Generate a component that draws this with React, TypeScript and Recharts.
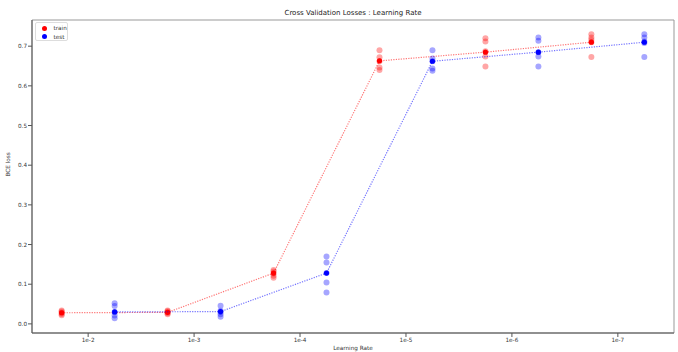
import {
  ReferenceArea,
  Scatter,
  ScatterChart,
  XAxis,
  YAxis,
} from 'recharts'

// learning rates on the x axis (ticks), train points sit left of each tick, test points right
const lrLabels = ['1e-2', '1e-3', '1e-4', '1e-5', '1e-6', '1e-7']

// individual cross validation runs, one list per learning rate
const trainRuns = [
  [0.022, 0.025, 0.028, 0.031, 0.034],
  [0.024, 0.027, 0.029, 0.032, 0.034],
  [0.116, 0.121, 0.127, 0.132, 0.136],
  [0.64, 0.646, 0.662, 0.672, 0.69],
  [0.649, 0.674, 0.687, 0.712, 0.72],
  [0.673, 0.71, 0.716, 0.722, 0.73],
]
const testRuns = [
  [0.014, 0.021, 0.03, 0.045, 0.052],
  [0.018, 0.024, 0.03, 0.033, 0.046],
  [0.079, 0.104, 0.128, 0.155, 0.17],
  [0.638, 0.644, 0.662, 0.669, 0.69],
  [0.649, 0.674, 0.685, 0.714, 0.722],
  [0.673, 0.708, 0.712, 0.722, 0.73],
]

// mean loss per learning rate
const trainMean = [0.028, 0.029, 0.128, 0.663, 0.685, 0.71]
const testMean = [0.03, 0.031, 0.128, 0.662, 0.685, 0.71]

const yTicks = [0, 0.1, 0.2, 0.3, 0.4, 0.5, 0.6, 0.7]
const xDomain = [-0.53, 5.53]
const yDomain = [-0.023, 0.766]

const TRAIN_OFFSET = -0.25
const TEST_OFFSET = 0.25

const font = 'DejaVu Sans, sans-serif'

const runPoints = (runs: number[][], offset: number) =>
  runs.flatMap((vals, i) => vals.map((v) => ({ x: i + offset, y: v })))

const meanPoints = (means: number[], offset: number) =>
  means.map((v, i) => ({ x: i + offset, y: v }))

const dot = (color: string, opacity: number, r: number) => (props: any) =>
  <circle cx={props.cx} cy={props.cy} r={r} fill={color} fillOpacity={opacity} />

export default function App() {
  return (
    <div style={{ position: 'absolute', top: 0, left: 0, width: 678, height: 352, background: '#fff', fontFamily: font }}>
      <div style={{ position: 'absolute', top: 9, left: 32, width: 642, textAlign: 'center', fontSize: 7, color: '#222' }}>
        Cross Validation Losses : Learning Rate
      </div>
      <ScatterChart width={678} height={352} margin={{ top: 20, right: 4, bottom: 0, left: 0 }}>
        <XAxis
          type="number"
          dataKey="x"
          domain={xDomain}
          ticks={[0, 1, 2, 3, 4, 5]}
          tickFormatter={(v) => lrLabels[v]}
          allowDataOverflow
          height={19}
          tickSize={4}
          tickMargin={1}
          stroke="#555"
          tick={{ fill: '#333', fontSize: 5.7, fontFamily: font }}
          label={{ value: 'Learning Rate', position: 'insideBottom', offset: 2, fill: '#333', fontSize: 5.7, fontFamily: font }}
        />
        <YAxis
          type="number"
          dataKey="y"
          domain={yDomain}
          ticks={yTicks}
          tickFormatter={(v) => v.toFixed(1)}
          allowDataOverflow
          width={32}
          tickSize={4}
          tickMargin={1}
          stroke="#555"
          tick={{ fill: '#333', fontSize: 5.7, fontFamily: font }}
          label={{ value: 'BCE loss', angle: -90, position: 'insideLeft', offset: 8, fill: '#333', fontSize: 5.7, fontFamily: font }}
        />
        <ReferenceArea x1={xDomain[0]} x2={xDomain[1]} y1={yDomain[0]} y2={yDomain[1]} fill="none" stroke="#999" strokeWidth={1} />
        <Scatter data={runPoints(trainRuns, TRAIN_OFFSET)} shape={dot('#ff0000', 0.35, 3)} isAnimationActive={false} />
        <Scatter
          data={meanPoints(trainMean, TRAIN_OFFSET)}
          shape={dot('#ff0000', 1, 2.6)}
          line={{ stroke: '#ff0000', strokeDasharray: '1.2 1.3', strokeWidth: 1.2, strokeOpacity: 0.55 }}
          isAnimationActive={false}
        />
        <Scatter data={runPoints(testRuns, TEST_OFFSET)} shape={dot('#0000ff', 0.35, 3)} isAnimationActive={false} />
        <Scatter
          data={meanPoints(testMean, TEST_OFFSET)}
          shape={dot('#0000ff', 1, 2.6)}
          line={{ stroke: '#0000ff', strokeDasharray: '1.2 1.3', strokeWidth: 1.2, strokeOpacity: 0.55 }}
          isAnimationActive={false}
        />
      </ScatterChart>
      <div
        style={{
          position: 'absolute',
          left: 35,
          top: 22,
          width: 33,
          height: 19,
          border: '1px solid #ddd',
          borderRadius: 2,
          background: 'rgba(255,255,255,0.8)',
          fontSize: 5.7,
          color: '#333',
          boxSizing: 'border-box',
        }}
      >
        {[
          { label: 'train', color: '#ff0000' },
          { label: 'test', color: '#0000ff' },
        ].map((item) => (
          <div key={item.label} style={{ display: 'flex', alignItems: 'center', height: 8.5, marginTop: item.label === 'train' ? 1 : 0 }}>
            <span style={{ display: 'inline-block', width: 5, height: 5, borderRadius: 3, background: item.color, marginLeft: 5.5, marginRight: 7 }} />
            <span>{item.label}</span>
          </div>
        ))}
      </div>
    </div>
  )
}
